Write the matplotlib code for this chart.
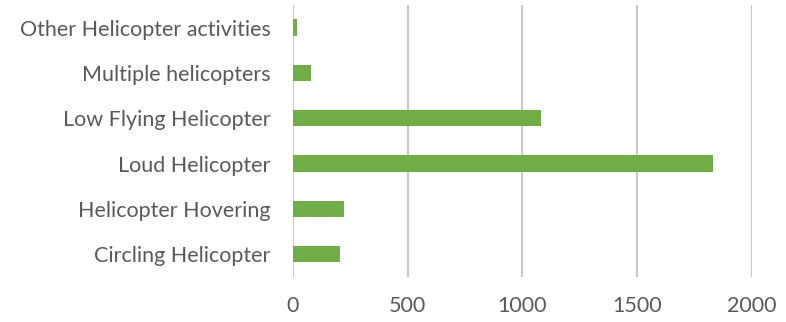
import matplotlib
matplotlib.use("Agg")
import matplotlib.pyplot as plt

# kategorier og verdier lest av bildet (nederst til øverst)
kategorier = ["Circling Helicopter", "Helicopter Hovering", "Loud Helicopter",
              "Low Flying Helicopter", "Multiple helicopters", "Other Helicopter activities"]
antall = [207, 222, 1832, 1081, 78, 17]
x_ticks = [0, 500, 1000, 1500, 2000]

plt.rcParams["font.family"] = ["Lato", "DejaVu Sans"]

fig = plt.figure(figsize=(7.86, 3.22), dpi=100)
ax = fig.add_axes([0.3724, 0.1398, 0.5843, 0.8447])

ax.barh(kategorier, antall, height=0.36, color="#70AD47", zorder=3)
ax.set_xlim(0, 2000)
ax.set_ylim(-0.5, len(kategorier) - 0.5)
ax.set_xticks(x_ticks)
ax.set_xticklabels([str(t) for t in x_ticks])

# vertikale rutenettlinjer
ax.grid(axis="x", color="#C8C8C8", linewidth=1.5, zorder=0)
for s in ax.spines.values():
    s.set_visible(False)

ax.tick_params(axis="both", length=0, colors="#595959", labelsize=15.5)
ax.tick_params(axis="x", pad=14)
ax.tick_params(axis="y", pad=16)

fig.savefig("out.png", dpi=100)
